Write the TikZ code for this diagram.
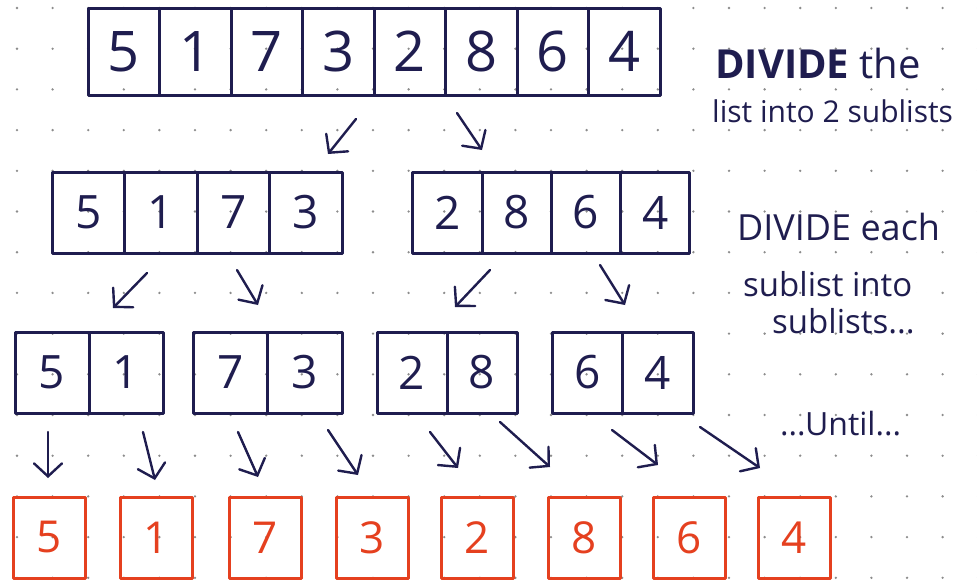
\documentclass[tikz,border=0pt]{standalone}
\usepackage{fontspec}
\setmainfont{Open Sans}
\usetikzlibrary{arrows.meta}
\definecolor{ink}{HTML}{1F1D4F}
\definecolor{redink}{HTML}{E5401F}
\definecolor{dotc}{HTML}{8C8C8C}
\begin{document}
\begin{tikzpicture}[x=1pt,y=-1pt,
  cellbase/.style={draw=ink, line width=3pt, line join=round, text=ink, inner sep=0pt},
  toprow/.style={cellbase, minimum width=71.5pt, minimum height=87pt, font=\fontsize{56}{56}\selectfont},
  midrow/.style={cellbase, minimum width=#1, minimum height=81pt, font=\fontsize{46}{46}\selectfont},
  pairrow/.style={cellbase, minimum width=#1, minimum height=81pt, font=\fontsize{46}{46}\selectfont},
  single/.style={draw=redink, line width=3pt, line join=round, text=redink, inner sep=0pt,
    minimum width=72pt, minimum height=81pt, font=\fontsize{44}{44}\selectfont},
  arr/.style={ink, line width=2.4pt, line cap=round,
    -{Straight Barb[length=13pt,width=28pt,line cap=round]}},
  note/.style={text=ink, anchor=base west, inner sep=0pt}
]
% paper and its dot grid
\fill[white] (0,0) rectangle (977,587);
\useasboundingbox (0,0) rectangle (977,587);
\foreach \i in {0,...,27}{
  \foreach \j in {0,...,14}{
    \fill[dotc] (17+35.6*\i, 8+40.7*\j) circle (1.3);
  }
}

% full list
\foreach \v [count=\k] in {5,1,7,3,2,8,6,4}{
  \node[toprow] (t\k) at (88+35.75+71.5*\k-71.5, 51.5) {\v};
}

% two halves
\foreach \v [count=\k] in {5,1,7,3}{
  \node[midrow=72.5pt] (l\k) at (52+36.25+72.5*\k-72.5, 212.5) {\v};
}
\foreach \v [count=\k] in {2,8,6,4}{
  \node[midrow=69.25pt] (r\k) at (413+34.6+69.25*\k-69.25, 212.5) {\v};
}

% four pairs
\node[pairrow=74pt]   (a1) at (52,372.5)    {5};
\node[pairrow=74pt]   (a2) at (126,372.5)   {1};
\node[pairrow=74.5pt] (b1) at (230.25,372.5) {7};
\node[pairrow=74.5pt] (b2) at (304.75,372.5) {3};
\node[pairrow=70pt]   (c1) at (412,372.5)   {2};
\node[pairrow=70pt]   (c2) at (482,372.5)   {8};
\node[pairrow=70.5pt] (d1) at (587.25,372.5) {6};
\node[pairrow=70.5pt] (d2) at (657.75,372.5) {4};

% single elements
\node[single] (s1) at (49,537.5)    {5};
\node[single] (s2) at (156.5,537.5) {1};
\node[single] (s3) at (265,537.5)   {7};
\node[single] (s4) at (372.5,537.5) {3};
\node[single] (s5) at (477.5,537.5) {2};
\node[single] (s6) at (584,537.5)   {8};
\node[single] (s7) at (689,537.5)   {6};
\node[single] (s8) at (794.5,537.5) {4};

% arrow end points
\coordinate (pA) at (356,119); \coordinate (qA) at (328,154);
\coordinate (pB) at (457,113); \coordinate (qB) at (482,150);
\coordinate (pC) at (147,273); \coordinate (qC) at (113,308);
\coordinate (pD) at (237,270); \coordinate (qD) at (258,305);
\coordinate (pE) at (490,270); \coordinate (qE) at (455,307);
\coordinate (pF) at (600,265); \coordinate (qF) at (625,305);
\coordinate (pG) at (48,432);  \coordinate (qG) at (48,478);
\coordinate (pH) at (143,432); \coordinate (qH) at (155,480);
\coordinate (pI) at (238,432); \coordinate (qI) at (258,477);
\coordinate (pJ) at (328,430); \coordinate (qJ) at (358,475);
\coordinate (pK) at (430,432); \coordinate (qK) at (458,468);
\coordinate (pL) at (500,422); \coordinate (qL) at (550,467);
\coordinate (pM) at (612,430); \coordinate (qM) at (658,465);
\coordinate (pN) at (700,427); \coordinate (qN) at (760,468);
\foreach \n in {A,B,C,D,E,F,G,H,I,J,K,L,M,N}{
  \draw[arr] (p\n) -- (q\n);
}

% notes
\node[note, font=\fontsize{40}{40}\selectfont] (n1) at (715,78) {\textbf{DIVIDE} the};
\node[note, font=\fontsize{30}{30}\selectfont] (n2) at (712,122) {list into 2 sublists};
\node[note, font=\fontsize{36}{36}\selectfont] (n3) at (737,240) {DIVIDE each};
\node[note, font=\fontsize{33}{33}\selectfont] (n4) at (743,296) {sublist into};
\node[note, font=\fontsize{33}{33}\selectfont] (n5) at (772,333) {sublists...};
\node[note, font=\fontsize{32}{32}\selectfont] (n6) at (780,435) {...Until...};
\end{tikzpicture}
\end{document}
